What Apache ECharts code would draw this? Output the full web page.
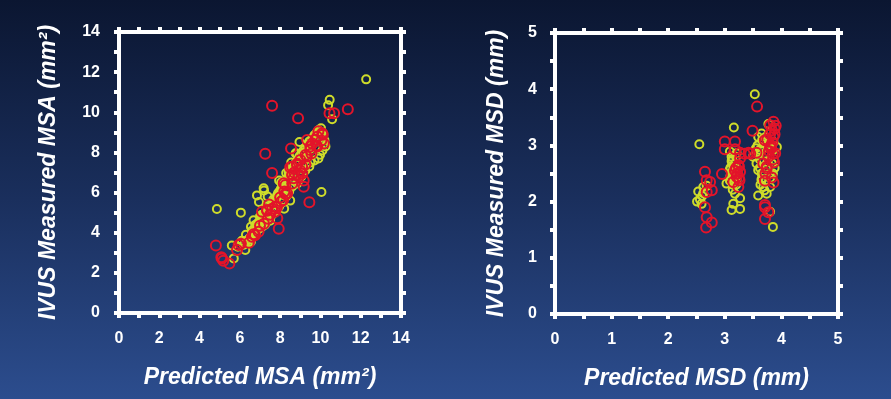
<!DOCTYPE html>
<html>
<head>
<meta charset="utf-8">
<script src="https://cdn.jsdelivr.net/npm/echarts@6/dist/echarts.min.js"></script>
<style>
  html, body { margin: 0; padding: 0; }
  #main { width: 891px; height: 399px; }
</style>
</head>
<body>
<div id="main"></div>
<script>
// MSA: predicted vs measured (mm2)
var msaYellow = [
  [4.86,5.18],[6.05,5.0],[12.27,11.64],[10.46,10.62],[10.38,10.35],[10.58,9.65],[8.96,8.52],[8.82,7.94],
  [10.05,6.03],[10.03,9.2],[10.15,8.4],[9.98,7.88],[10.12,8.8],[7.2,6.1],[6.85,5.86],[7.38,5.8],[6.95,5.53],
  [5.6,3.36],[5.7,2.72],[6.27,3.14],[6.55,4.3],[6.68,4.62],[6.43,3.67],[6.76,4.38],[7.0,4.8],[7.33,5.3],
  [7.66,5.65],[7.9,5.98],[8.15,6.3],[8.3,6.57],[8.47,6.82],[8.3,6.97],[8.8,7.15],[8.77,7.96],[8.2,5.2],
  [8.5,5.6],[7.18,6.21],[8.42,7.04],[6.1,3.6],[6.3,3.9],[6.6,4.1],[6.9,4.5],[7.1,4.9],[7.45,5.0],[7.6,5.45],
  [7.8,5.7],[8.0,6.1],[8.05,6.5],[8.35,6.2],[8.6,6.6],[8.7,7.0],[8.9,7.4],[9.1,7.7],[9.2,8.0],[9.4,8.1],
  [9.55,8.3],[9.7,8.5],[9.85,8.7],[9.6,7.9],[9.3,7.45],[9.0,7.0],[8.9,6.6],[9.5,7.5],[9.8,8.2],[7.5,4.6],
  [7.25,4.4],[6.8,4.0],[5.9,3.3],[6.4,3.5],[7.7,5.1],[8.1,5.5],[9.95,9.0],[10.0,8.6],[8.55,7.5],[7.95,6.6],
  [6.2,3.4],[6.35,3.6],[6.5,3.75],[6.6,4.0],[6.75,4.15],[6.85,4.35],[7.0,4.55],[7.05,4.7],[7.15,4.85],
  [7.3,5.05],[7.4,5.2],[7.55,5.35],[7.65,5.5],[7.75,5.6],[7.85,5.85],[7.95,6.0],[8.05,6.2],[8.1,6.35],
  [8.25,6.5],[8.35,6.7],[8.45,6.9],[8.55,7.1],[8.65,7.25],[8.75,7.45],[8.85,7.6],[8.95,7.8],[9.05,7.95],
  [9.15,8.1],[9.25,8.25],[9.35,8.4],[9.45,8.55],[9.6,8.7],[9.7,8.85],[9.8,8.95],[9.9,9.1],[10.05,9.0],
  [10.2,8.6],[10.25,8.3],[10.1,8.1],[9.9,7.7],[9.7,7.6],[9.45,7.3],[9.25,7.1],[9.05,6.8],[8.85,6.45],
  [8.6,6.3],[8.45,6.05],[8.3,5.8],[8.1,5.6],[7.95,5.3],[7.8,5.1],[7.6,4.9],[7.4,4.75],[7.25,4.55],[7.1,4.3],
  [6.95,4.2],[6.75,3.95],[6.55,3.55]
];
var msaRed = [
  [4.81,3.36],[5.08,2.78],[5.18,2.6],[5.48,2.46],[5.11,2.72],[7.6,10.32],[8.89,9.7],[7.26,7.94],[7.6,6.97],
  [11.36,10.15],[10.45,9.95],[10.68,9.95],[9.45,5.52],[7.93,4.2],[7.86,4.72],[8.54,8.2],[5.86,3.14],
  [5.94,3.39],[6.05,3.45],[6.68,3.92],[6.75,3.87],[6.93,4.05],[7.2,4.45],[7.1,5.05],[7.35,5.13],[7.6,5.2],
  [7.76,5.3],[7.35,5.1],[7.84,5.27],[8.26,5.93],[8.26,6.38],[8.21,6.05],[8.15,5.63],[8.59,6.88],[9.17,6.29],
  [8.5,7.26],[8.84,7.43],[9.0,7.1],[9.17,6.6],[9.33,7.8],[9.5,8.3],[9.75,8.63],[10.12,8.88],[10.17,8.45],
  [9.34,8.62],[9.84,8.78],[10.09,8.95],[9.84,8.3],[9.5,8.12],[9.26,7.87],[9.0,7.62],[8.84,7.37],[8.59,7.29],
  [9.09,7.29],[8.92,6.8],[8.67,6.71],[8.18,6.46],[7.5,4.9],[6.6,3.8],[8.0,5.75],[9.6,8.45],[9.9,9.05],
  [8.7,7.0],[9.1,6.95],[7.45,5.4],
  [6.45,3.5],[7.0,4.35],[7.4,4.7],[7.75,5.05],[8.05,5.55],[8.35,5.95],[8.6,6.45],[8.9,6.9],[9.25,7.4],
  [9.55,7.95],[9.8,8.35],[10.05,8.6]
];
// MSD: predicted vs measured (mm)
var msdYellow = [
  [2.55,3.02],[3.53,3.91],[3.16,3.32],[3.85,1.55],[3.8,1.82],[3.12,1.85],[3.27,1.87],[3.15,1.96],[3.27,2.06],
  [3.18,2.14],[3.14,2.21],[2.53,2.18],[2.62,2.15],[2.56,2.04],[2.51,2.0],[2.59,1.96],[2.62,2.26],[2.68,2.28],
  [3.03,2.32],[3.09,2.89],[3.21,2.86],[3.12,2.8],[3.18,2.68],[3.09,2.57],[3.15,2.45],[3.09,2.37],[3.21,2.4],
  [3.56,2.68],[3.5,2.8],[3.62,2.92],[3.59,2.56],[3.65,2.38],[3.68,2.26],[3.59,2.11],[3.74,2.14],[3.8,2.26],
  [3.71,2.35],[3.8,2.5],[3.83,2.68],[3.59,3.15],[3.65,3.21],[3.86,3.06],[3.92,2.97],[3.77,3.38],[3.12,2.72],
  [3.15,2.62],[3.12,2.52],[3.2,2.3],[3.62,2.75],[3.7,2.85],[3.55,2.95],[3.68,3.05],[3.84,2.9],[3.76,2.7],
  [3.88,2.6],[2.6,2.1],
  [3.1,2.6],[3.13,2.75],[3.17,2.5],[3.2,2.35],[3.1,2.45],[3.14,2.3],[3.2,2.8],[3.65,2.5],[3.62,2.6],
  [3.68,2.95],[3.72,3.15],[3.78,3.05],[3.65,2.4],[3.7,2.2],[3.63,2.3],[3.8,2.42],[3.85,2.5],[3.6,2.85],
  [3.66,3.1],[3.58,3.0]
];
var msdRed = [
  [3.57,3.69],[3.49,3.26],[3.86,3.42],[3.8,3.36],[3.83,3.27],[3.0,3.07],[3.18,3.07],[3.0,2.93],[3.18,2.93],
  [3.27,2.87],[3.42,2.87],[3.56,2.87],[3.24,2.65],[3.27,2.53],[3.21,2.44],[3.15,2.35],[3.24,2.26],[3.27,2.77],
  [2.95,2.49],[2.65,2.53],[2.68,2.38],[2.74,2.35],[2.77,2.2],[2.68,2.17],[2.65,1.9],[2.68,1.72],[2.77,1.63],
  [2.67,1.54],[3.68,2.68],[3.74,2.59],[3.77,2.8],[3.8,2.97],[3.71,3.09],[3.86,3.15],[3.89,2.86],[3.83,2.43],
  [3.86,2.34],[3.71,2.37],[3.74,2.62],[3.71,1.9],[3.71,1.69],[3.77,1.81],[3.71,1.94],[3.2,2.6],[3.22,2.5],
  [3.18,2.55],[3.25,2.42],[3.82,3.0],[3.78,2.9],[3.85,2.75],[3.8,3.2],[3.88,3.3],[3.75,3.1],[3.72,2.5],
  [3.22,2.5],[3.25,2.62],[3.26,2.38],[3.82,2.95],[3.85,2.85],[3.84,3.05],[3.87,2.7],[3.88,3.2],[3.9,3.35],
  [3.45,2.85],[3.35,2.85]
];

var msaTitles = ['Predicted MSA (mm²)', 'IVUS Measured MSA (mm²)'];
var msdTitles = ['Predicted MSD (mm)', 'IVUS Measured MSD (mm)'];

var myChart = echarts.init(document.getElementById('main'));

var labelFont = { color: '#fff', fontSize: 16, fontWeight: 'bold', fontFamily: 'Liberation Sans, Arial' };
var nameFont = { color: '#fff', fontSize: 23, fontWeight: 'bold', fontStyle: 'italic', fontFamily: 'Liberation Sans, Arial' };

// one axis of the white frame
function frameAxis(grid, pos, max, step, showLabel, name, gap, margin) {
  var ax = {
    type: 'value', gridIndex: grid, position: pos,
    min: 0, max: max, interval: step,
    splitLine: { show: false },
    axisLine: { show: true, onZero: false, lineStyle: { color: '#fff', width: 4 } },
    axisTick: { show: true, length: 5, lineStyle: { color: '#fff', width: 4 } },
    axisLabel: { show: showLabel, margin: margin || 12,
      formatter: function (v) { return (Math.round(v / step) % 2 === 0) ? (v * 1).toString() : ''; } }
  };
  for (var k in labelFont) ax.axisLabel[k] = labelFont[k];
  if (name) {
    ax.name = name;
    ax.nameLocation = 'middle';
    ax.nameGap = gap;
    ax.nameTextStyle = nameFont;
  }
  return ax;
}

function circles(data, xi, color, size) {
  return {
    type: 'scatter', xAxisIndex: xi, yAxisIndex: xi,
    data: data, symbol: 'circle', symbolSize: size,
    itemStyle: { color: 'rgba(0,0,0,0)', borderColor: color, borderWidth: 2, opacity: 1 }
  };
}

var yellow = '#cfdc2a';
var red = '#e3142a';

var option = {
  animation: false,
  backgroundColor: {
    type: 'linear', x: 0, y: 0, x2: 0, y2: 1,
    colorStops: [
      { offset: 0, color: '#0b1631' },
      { offset: 0.5, color: '#1a2f5d' },
      { offset: 1, color: '#2c4d8e' }
    ]
  },
  grid: [
    { left: 119, top: 32, width: 282, height: 281 },
    { left: 555, top: 33, width: 283, height: 281 }
  ],
  xAxis: [
    frameAxis(0, 'bottom', 14, 1, true, msaTitles[0], 53, 18),
    frameAxis(1, 'bottom', 5, 0.5, true, msdTitles[0], 53, 18),
    frameAxis(0, 'top', 14, 1, false),
    frameAxis(1, 'top', 5, 0.5, false)
  ],
  yAxis: [
    frameAxis(0, 'left', 14, 1, true, msaTitles[1], 59, 19),
    frameAxis(1, 'left', 5, 0.5, true, msdTitles[1], 47, 18),
    frameAxis(0, 'right', 14, 1, false),
    frameAxis(1, 'right', 5, 0.5, false)
  ],
  series: [
    circles(msaYellow, 0, yellow, 8),
    circles(msaRed, 0, red, 10),
    circles(msdYellow, 1, yellow, 8),
    circles(msdRed, 1, red, 10)
  ]
};

myChart.setOption(option);
</script>
</body>
</html>
